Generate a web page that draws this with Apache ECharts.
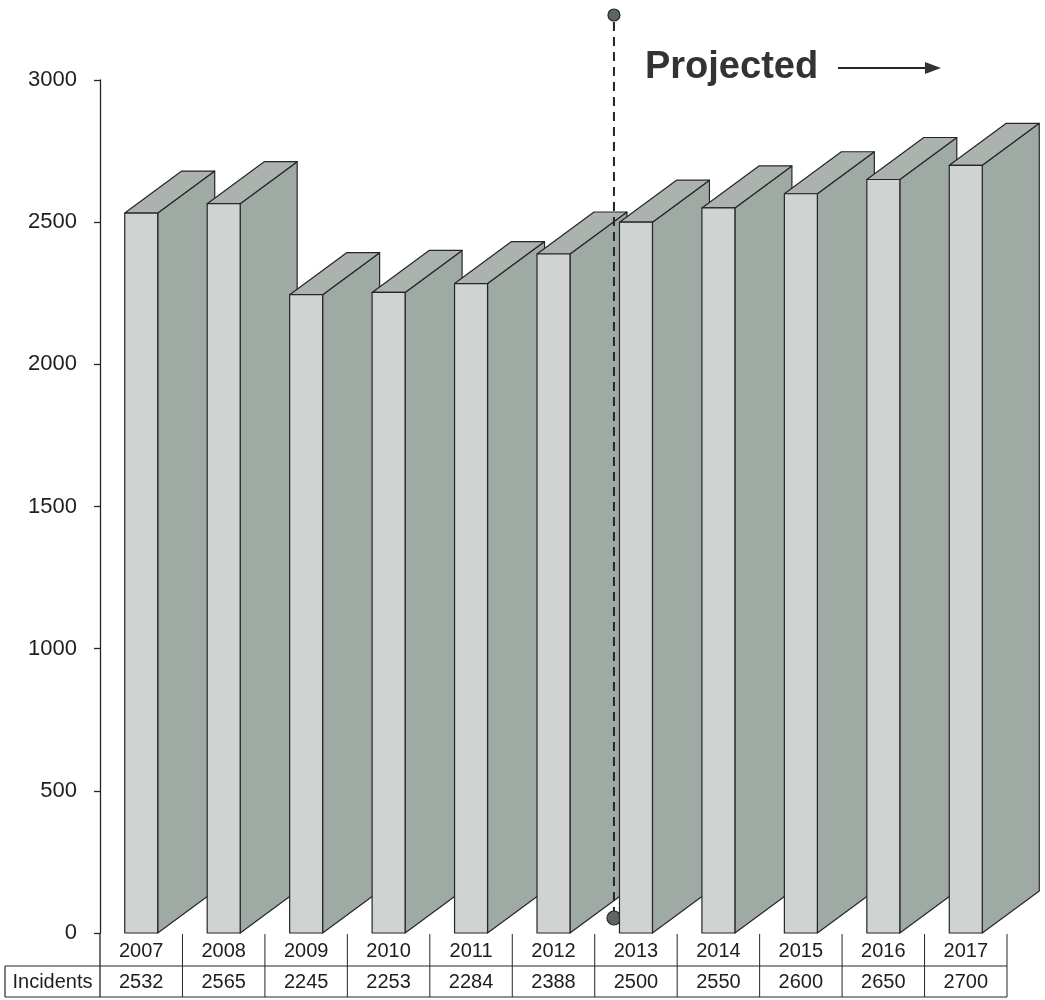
<!DOCTYPE html>
<html>
<head>
<meta charset="utf-8">
<title>Incidents 2007–2017</title>
<script src="https://cdn.jsdelivr.net/npm/echarts@6/dist/echarts.min.js"></script>
<style>
  html, body { margin: 0; padding: 0; background: #ffffff; }
  #chart { width: 1045px; height: 1000px; }
</style>
</head>
<body>
<div id="chart"></div>
<script>
// Yearly incident counts; from 2013 onward the figures are projections.
const years = ['2007', '2008', '2009', '2010', '2011', '2012', '2013', '2014', '2015', '2016', '2017'];
const incidents = [2532, 2565, 2245, 2253, 2284, 2388, 2500, 2550, 2600, 2650, 2700];
const firstProjectedYear = '2013';
const rowLabel = 'Incidents';
const annotationText = 'Projected';
const yMin = 0, yMax = 3000, yStep = 500;

const FONT = '"Liberation Sans", Arial, Helvetica, sans-serif';
const INK = '#262626';
const FRONT = '#cfd3d1';
const SIDE = '#a0aaa4';
const TOP = '#acb3af';
const DEPTH_X = 57, DEPTH_Y = 42;

const splitIdx = years.indexOf(firstProjectedYear);
const actualData = incidents.map((v, i) => [i, v]).filter(d => d[0] < splitIdx);
const projectedData = incidents.map((v, i) => [i, v]).filter(d => d[0] >= splitIdx);

// Pseudo-3D slab: light front face plus darker side and top faces.
function renderSlab(params, api) {
  const idx = api.value(0);
  const base = api.coord([idx, 0]);
  const top = api.coord([idx, api.value(1)]);
  const band = api.size([1, 0])[0];
  const w = band * 0.4;
  const x0 = base[0] - w / 2, x1 = x0 + w;
  const yb = base[1], yt = top[1];
  const stroke = { stroke: INK, lineWidth: 1.2, lineJoin: 'round' };
  return {
    type: 'group',
    children: [
      { type: 'polygon', shape: { points: [[x1, yb], [x1 + DEPTH_X, yb - DEPTH_Y], [x1 + DEPTH_X, yt - DEPTH_Y], [x1, yt]] },
        style: Object.assign({ fill: SIDE }, stroke) },
      { type: 'polygon', shape: { points: [[x0, yt], [x1, yt], [x1 + DEPTH_X, yt - DEPTH_Y], [x0 + DEPTH_X, yt - DEPTH_Y]] },
        style: Object.assign({ fill: TOP }, stroke) },
      { type: 'rect', shape: { x: x0, y: yt, width: w, height: yb - yt },
        style: Object.assign({ fill: FRONT }, stroke) }
    ]
  };
}

// Data table cells below the axis: year, value and the right-hand divider.
function renderTableCell(params, api) {
  const idx = api.value(0);
  const base = api.coord([idx, 0]);
  const band = api.size([1, 0])[0];
  const xr = base[0] + band / 2;
  const y0 = base[1];
  return {
    type: 'group',
    children: [
      { type: 'text', style: { x: base[0], y: y0 + 18, text: years[idx], fill: '#1e1e1e',
        font: '20px ' + FONT, align: 'center', verticalAlign: 'middle' } },
      { type: 'text', style: { x: base[0], y: y0 + 49, text: String(api.value(1)), fill: '#1e1e1e',
        font: '20px ' + FONT, align: 'center', verticalAlign: 'middle' } },
      { type: 'line', shape: { x1: xr, y1: y0 + 1, x2: xr, y2: y0 + 64 },
        style: { stroke: INK, lineWidth: 1 } }
    ]
  };
}

const chart = echarts.init(document.getElementById('chart'), null, { renderer: 'canvas' });

chart.setOption({
  animation: false,
  backgroundColor: '#ffffff',
  grid: { left: 100, right: 38, top: 80, bottom: 67 },
  xAxis: {
    type: 'category',
    data: years,
    axisLine: { show: false },
    axisTick: { show: false },
    axisLabel: { show: false },
    splitLine: { show: false }
  },
  yAxis: {
    type: 'value',
    min: yMin, max: yMax, interval: yStep,
    axisLine: { show: true, lineStyle: { color: INK, width: 1.3 } },
    axisTick: { show: true, length: 6, lineStyle: { color: INK, width: 1.3 } },
    axisLabel: { color: '#1e1e1e', fontSize: 22, fontFamily: FONT, margin: 23,
      formatter: v => String(v) },
    splitLine: { show: false }
  },
  series: [
    { name: 'Table', type: 'custom', z: 1, renderItem: renderTableCell, clip: false,
      data: incidents.map((v, i) => [i, v]) },
    { name: 'Incidents', type: 'custom', z: 2, renderItem: renderSlab, clip: false, data: actualData },
    { name: 'Projected', type: 'custom', z: 4, renderItem: renderSlab, clip: false, data: projectedData }
  ]
});

// Annotations positioned from the axes: projection divider, caption, table frame.
const p0 = chart.convertToPixel({ seriesIndex: 1 }, [0, yMin]);
const pLast = chart.convertToPixel({ seriesIndex: 1 }, [years.length - 1, yMin]);
const pSplit = chart.convertToPixel({ seriesIndex: 1 }, [splitIdx, yMin]);
const pMax = chart.convertToPixel({ seriesIndex: 1 }, [0, yMax]);
const band = (pLast[0] - p0[0]) / (years.length - 1);
const axisX = p0[0] - band / 2;
const rightX = pLast[0] + band / 2;
const yBase = p0[1];
const divX = pSplit[0] - band * 0.2 - 5.5;

chart.setOption({
  graphic: [
    { type: 'line', z: 3, shape: { x1: divX, y1: pMax[1] - 58, x2: divX, y2: yBase - 15 },
      style: { stroke: INK, lineWidth: 2, lineDash: [9, 6] } },
    { type: 'circle', z: 3, shape: { cx: divX, cy: pMax[1] - 65, r: 6 },
      style: { fill: '#5c6762', stroke: INK, lineWidth: 1.2 } },
    { type: 'circle', z: 3, shape: { cx: divX, cy: yBase - 15, r: 7 },
      style: { fill: '#5c6762', stroke: INK, lineWidth: 1.2 } },
    { type: 'text', z: 5, style: { x: divX + 31, y: pMax[1] - 12, text: annotationText,
      font: 'bold 38px ' + FONT, fill: '#333333', verticalAlign: 'middle' } },
    { type: 'line', z: 5, shape: { x1: divX + 224, y1: pMax[1] - 12, x2: divX + 314, y2: pMax[1] - 12 },
      style: { stroke: INK, lineWidth: 1.8 } },
    { type: 'polygon', z: 5, shape: { points: [[divX + 311, pMax[1] - 18], [divX + 327, pMax[1] - 12], [divX + 311, pMax[1] - 6]] },
      style: { fill: '#333333' } },
    // table frame
    { type: 'line', z: 1, shape: { x1: axisX, y1: yBase, x2: axisX, y2: yBase + 64 },
      style: { stroke: INK, lineWidth: 1.3 } },
    { type: 'line', z: 1, shape: { x1: 5, y1: yBase + 33, x2: rightX, y2: yBase + 33 },
      style: { stroke: INK, lineWidth: 1.2 } },
    { type: 'line', z: 1, shape: { x1: 5, y1: yBase + 64, x2: rightX, y2: yBase + 64 },
      style: { stroke: INK, lineWidth: 1.2 } },
    { type: 'line', z: 1, shape: { x1: 5, y1: yBase + 33, x2: 5, y2: yBase + 64 },
      style: { stroke: INK, lineWidth: 1.2 } },
    { type: 'text', z: 1, style: { x: (5 + axisX) / 2, y: yBase + 49, text: rowLabel,
      font: '20px ' + FONT, fill: '#1e1e1e', align: 'center', verticalAlign: 'middle' } }
  ]
});
</script>
</body>
</html>
